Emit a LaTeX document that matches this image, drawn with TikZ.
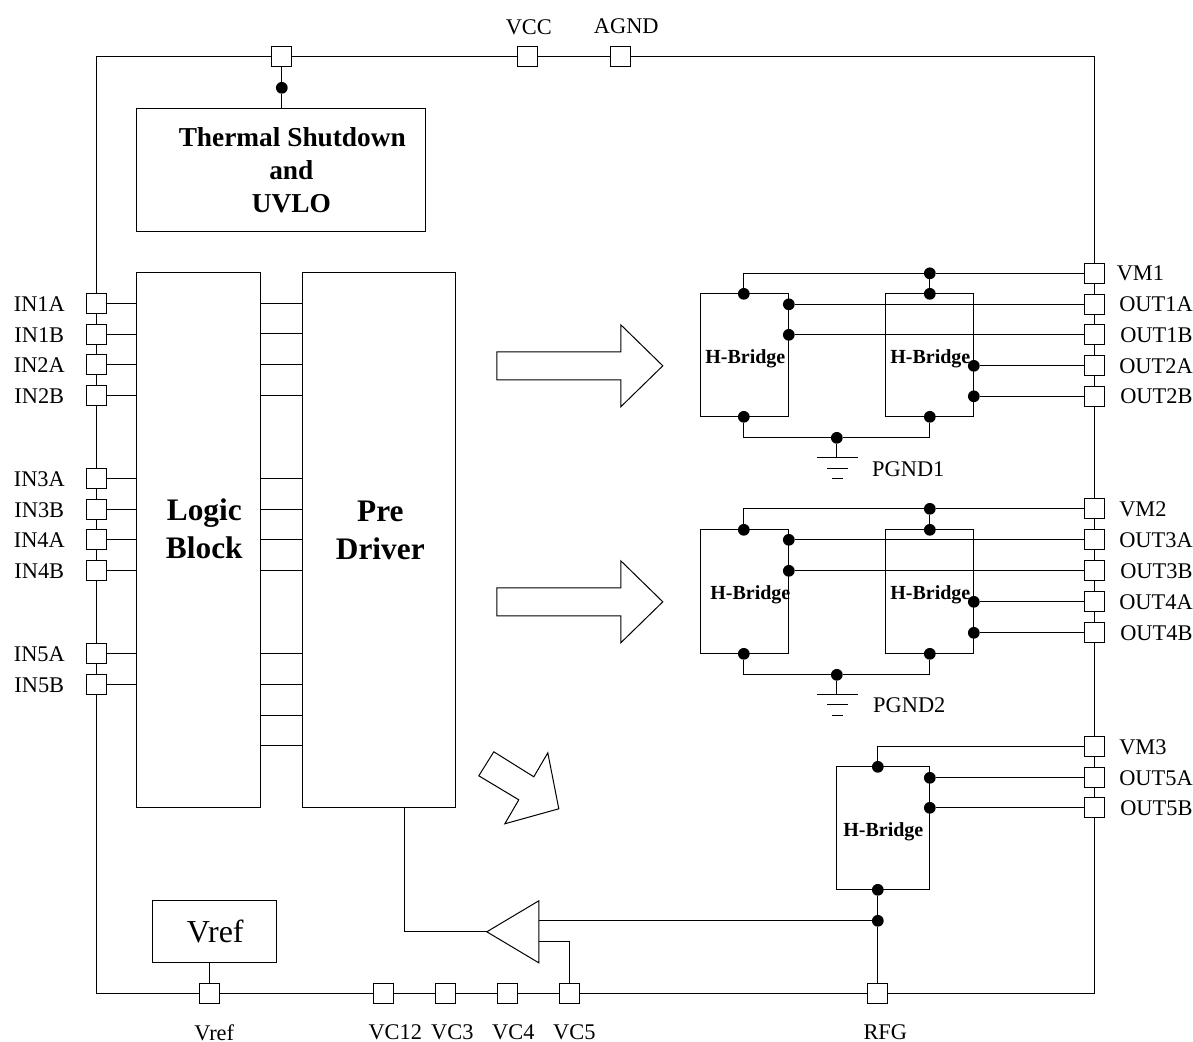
\documentclass[tikz,border=0pt]{standalone}
\usepackage{fontspec}
\setmainfont{Liberation Serif}
\tikzset{
  wire/.style={draw=black,line width=0.75pt,line join=miter},
  pin/.style={draw=black,fill=white,line width=0.75pt,minimum size=15pt,inner sep=0pt,outer sep=0pt},
  jdot/.style={circle,fill=black,draw=none,minimum size=8.8pt,inner sep=0pt,outer sep=0pt},
  box/.style={draw=black,fill=none,line width=0.75pt,inner sep=0pt,outer sep=0pt,rectangle},
  lab/.style={inner sep=0pt,outer sep=0pt,font=\fontsize{16.8}{18}\selectfont},
  blab/.style={inner sep=0pt,outer sep=0pt,font=\fontsize{15}{17}\selectfont\bfseries},
  tlab/.style={inner sep=0pt,outer sep=0pt,font=\fontsize{20.5}{22}\selectfont\bfseries},
  klab/.style={inner sep=0pt,outer sep=0pt,font=\fontsize{23.5}{26}\selectfont\bfseries},
  bigarrow/.style={draw=black,fill=white,line width=0.75pt,line join=miter},
}
\newcommand{\blockat}[6]{\node[box,minimum width=#4*0.75pt,minimum height=#5*0.75pt] (#1) at (#2,#3) {#6};}
\begin{document}
\begin{tikzpicture}[x=0.75pt,y=-0.75pt]
\useasboundingbox (0.2,0.2) rectangle (1193.2,1042.2);
% frame
\draw[wire] (97,57) rectangle (1095,994);
% top pins
\foreach \n/\x in {ptherm/282,pvcc/528,pagnd/621} {\node[pin] (\n) at (\x,57) {};}
\node[lab] (lvcc) at (529,27.5) {VCC};
\node[lab] (lagnd) at (626.5,26.5) {AGND};
% blocks
\blockat{therm}{281.5}{170.5}{289}{123}{}
\blockat{logic}{199}{540.5}{124}{535}{}
\blockat{pre}{379.5}{540.5}{153}{535}{}
\blockat{vrefbox}{215}{932}{124}{62}{}
\node[tlab] (t1) at (292.5,137.5) {Thermal Shutdown};
\node[tlab] (t2) at (291.5,170.5) {and};
\node[tlab] (t3) at (291.5,203.5) {UVLO};
\node[klab] (k1) at (204.5,513.5) {Logic};
\node[klab] (k2) at (204.5,547.5) {Block};
\node[klab] (k3) at (380.5,511.5) {Pre};
\node[klab] (k4) at (380.5,548.5) {Driver};
\node[inner sep=0pt,font=\fontsize{24}{26}\selectfont] (k5) at (215.5,931.5) {Vref};
\node[jdot] (dtherm) at (282,88) {};
\draw[wire] (ptherm) -- (dtherm) -- (therm.north -| dtherm);
% left pins
\foreach \n/\y/\t in {a/304/IN1A,b/335/IN1B,c/365/IN2A,d/396/IN2B,e/479/IN3A,f/510/IN3B,g/540/IN4A,h/571/IN4B,i/654/IN5A,j/685/IN5B} {
  \node[pin] (p\n) at (97,\y) {};
  \node[lab] (l\n) at (39.5,\y) {\t};
  \draw[wire] (p\n.east) -- (p\n.east -| logic.west);
}
% logic to pre driver stubs
\foreach \y in {304,334,365,396,479,510,540,571,654,685,716,746} {
  \coordinate (s\y) at (280,\y);
  \draw[wire] (s\y -| logic.east) -- (s\y -| pre.west);
}
% arrows
\draw[bigarrow] (497,352) -- (621,352) -- (621,325) -- (663,366) -- (621,407) -- (621,380) -- (497,380) -- cycle;
\draw[bigarrow] (497,588) -- (621,588) -- (621,561) -- (663,602) -- (621,643) -- (621,616) -- (497,616) -- cycle;
\draw[bigarrow] (494,752) -- (534,777) -- (548,753) -- (559,809) -- (505,824) -- (519,800) -- (479,776) -- cycle;
% right pins
\foreach \n/\y/\t/\x in {vma/273.5/VM1/1117,oa/304.5/OUT1A/1119.5,ob/335/OUT1B/1120.5,oc/366/OUT2A/1119.5,od/396.5/OUT2B/1120.5,vmb/509/VM2/1119.5,oe/540/OUT3A/1119.5,of/571/OUT3B/1120.5,og/602/OUT4A/1119.5,oh/633/OUT4B/1120.5,vmc/747/VM3/1119.5,oi/778/OUT5A/1119.5,oj/808/OUT5B/1120.5} {
  \node[pin] (\n) at (1095,\y) {};
  \node[lab,anchor=west] (l\n) at (\x,\y) {\t};
}
% H-bridge group 1
\blockat{ha}{745}{355.5}{88}{123}{}
\blockat{hb}{930}{355.5}{88}{123}{}
\node[blab] (ta) at (745.5,358.5) {H-Bridge};
\node[blab] (tb) at (930.5,358.5) {H-Bridge};
\node[jdot] (d1) at (744,294) {};
\node[jdot] (d2) at (930,273.5) {};
\node[jdot] (d3) at (930,294) {};
\node[jdot] (d4) at (789,304.5) {};
\node[jdot] (d5) at (789,335) {};
\node[jdot] (d6) at (974,366) {};
\node[jdot] (d7) at (974,396.5) {};
\node[jdot] (d8) at (744,417) {};
\node[jdot] (d9) at (930,417) {};
\node[jdot] (d10) at (837,438) {};
\draw[wire] (d1) |- (d2);
\draw[wire] (d2) -- (vma);
\draw[wire] (d2) -- (d3);
\draw[wire] (d4) -- (oa);
\draw[wire] (d5) -- (ob);
\draw[wire] (d6) -- (oc);
\draw[wire] (d7) -- (od);
\draw[wire] (d8) |- (d10);
\draw[wire] (d9) |- (d10);
\coordinate (g1) at (837,458);
\draw[wire] (d10) -- (g1);
\draw[wire] (817,458) -- (858,458) (827,469) -- (848,469) (832,479) -- (843,479);
\node[lab] (lg1) at (908.5,469.5) {PGND1};
% H-bridge group 2
\blockat{hc}{745}{592}{88}{124}{}
\blockat{hd}{930}{592}{88}{124}{}
\node[blab] (tc) at (750.5,594.5) {H-Bridge};
\node[blab] (td) at (930.5,594.5) {H-Bridge};
\node[jdot] (e1) at (744,530) {};
\node[jdot] (e2) at (930,509) {};
\node[jdot] (e3) at (930,530) {};
\node[jdot] (e4) at (789,540) {};
\node[jdot] (e5) at (789,571) {};
\node[jdot] (e6) at (974,602) {};
\node[jdot] (e7) at (974,633) {};
\node[jdot] (e8) at (744,654) {};
\node[jdot] (e9) at (930,654) {};
\node[jdot] (e10) at (837,675) {};
\draw[wire] (e1) |- (e2);
\draw[wire] (e2) -- (vmb);
\draw[wire] (e2) -- (e3);
\draw[wire] (e4) -- (oe);
\draw[wire] (e5) -- (of);
\draw[wire] (e6) -- (og);
\draw[wire] (e7) -- (oh);
\draw[wire] (e8) |- (e10);
\draw[wire] (e9) |- (e10);
\coordinate (g2) at (837,695);
\draw[wire] (e10) -- (g2);
\draw[wire] (817,695) -- (858,695) (827,705) -- (848,705) (832,716) -- (843,716);
\node[lab] (lg2) at (909.5,705.5) {PGND2};
% H-bridge 3
\blockat{he}{883.5}{828.5}{93}{123}{}
\node[blab] (te) at (883.5,831.5) {H-Bridge};
\node[jdot] (f1) at (878,767) {};
\node[jdot] (f2) at (930,778) {};
\node[jdot] (f3) at (930,808) {};
\node[jdot] (f4) at (878,890) {};
\node[jdot] (f5) at (878,921) {};
\draw[wire] (f1) |- (vmc);
\draw[wire] (f2) -- (oi);
\draw[wire] (f3) -- (oj);
% bottom pins
\foreach \n/\x in {pvref/210,pvc12/384,pvc3/446,pvc4/508,pvc5/570,prfg/878} {\node[pin] (\n) at (\x,994) {};}
\node[lab] (lvref) at (214.5,1032.5) {Vref};
\node[lab] (lvc12) at (395.5,1032.5) {VC12};
\node[lab] (lvc3) at (452.5,1032.5) {VC3};
\node[lab] (lvc4) at (513.5,1032.5) {VC4};
\node[lab] (lvc5) at (574.5,1032.5) {VC5};
\node[lab] (lrfg) at (885.5,1032.5) {RFG};
\draw[wire] (f4) -- (f5) -- (prfg);
\draw[wire] (pvref) -- (pvref |- vrefbox.south);
% comparator
\coordinate (ctip) at (487,932);
\coordinate (cin1) at (539,921);
\coordinate (cin2) at (539,942);
\draw[wire] (ctip) -- (539,901) -- (539,963) -- cycle;
\draw[wire] (f5) -- (cin1);
\draw[wire] (cin2) -| (pvc5);
\coordinate (preout) at (405,808);
\draw[wire] (preout) |- (ctip);
\end{tikzpicture}
\end{document}
